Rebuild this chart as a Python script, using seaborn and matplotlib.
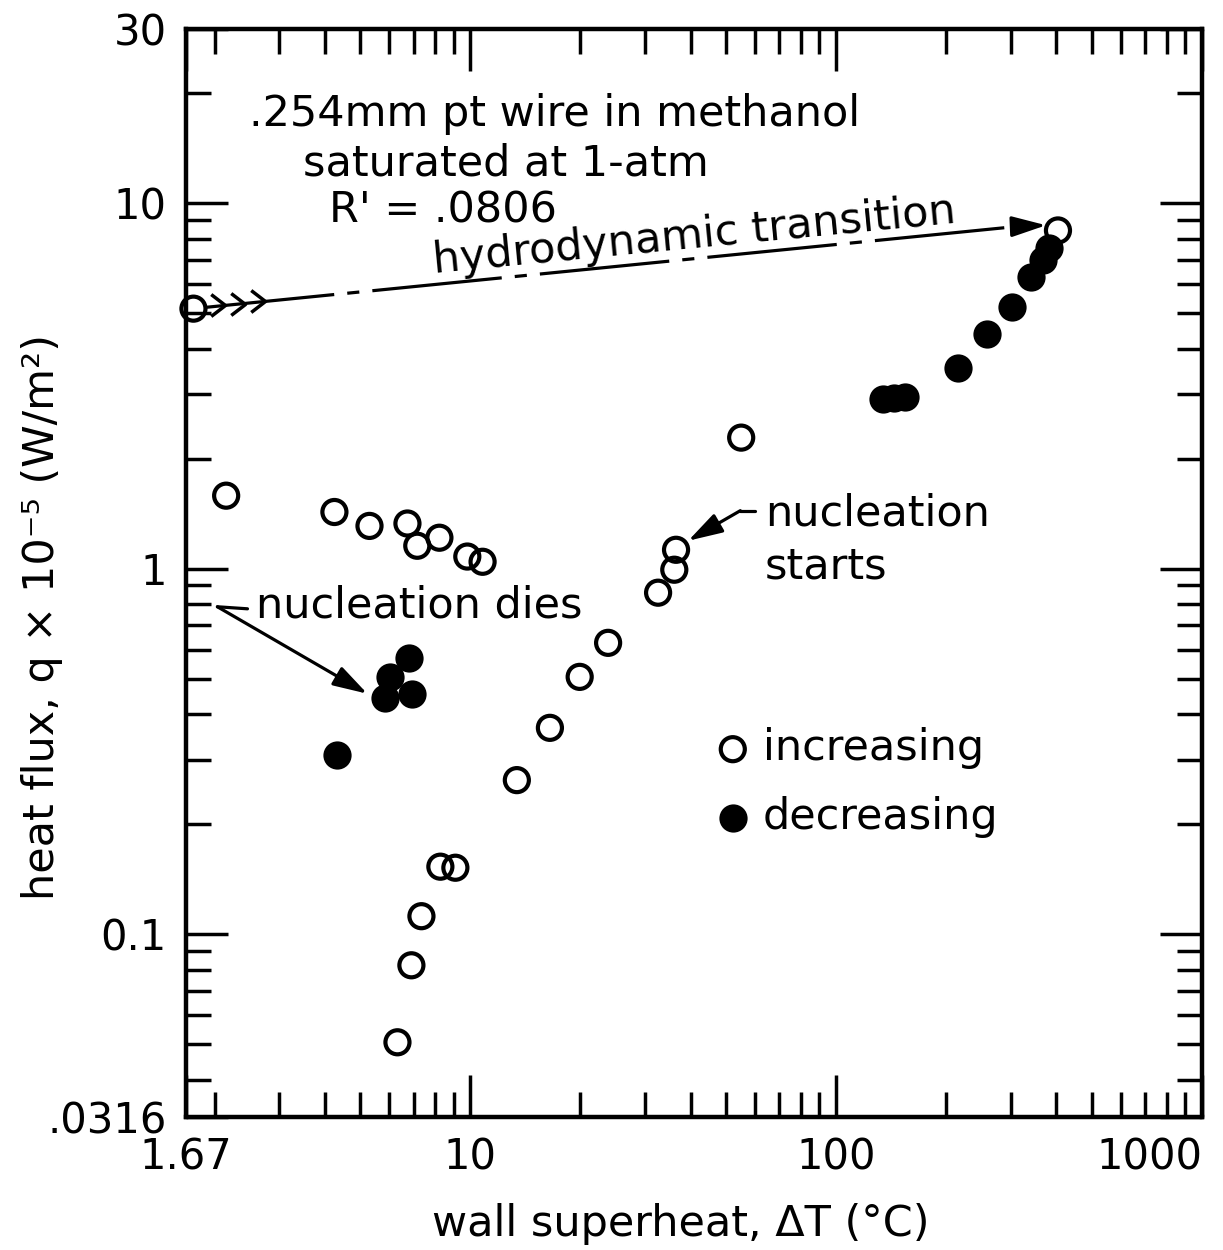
import matplotlib
matplotlib.use("Agg")
import matplotlib.pyplot as plt
from matplotlib.path import Path
from matplotlib.ticker import NullFormatter
import seaborn as sns

# wall superheat dT (deg C) and heat flux q x 1e-5 (W/m^2)
# open circles: increasing heat flux
inc_dT = [1.75, 2.15, 4.25, 5.30, 6.73, 7.16, 8.23, 9.81, 10.8,
          6.32, 6.90, 7.35, 8.28, 9.10,
          13.4, 16.5, 19.9, 23.8, 32.6, 36.1, 36.5, 55.0, 404]
inc_q = [5.15, 1.585, 1.43, 1.31, 1.33, 1.156, 1.216, 1.08, 1.045,
         0.0506, 0.0822, 0.112, 0.153, 0.152,
         0.264, 0.367, 0.506, 0.627, 0.86, 0.994, 1.127, 2.285, 8.43]
# filled circles: decreasing heat flux
dec_dT = [4.33, 6.81, 6.04, 5.86, 6.94, 134, 144, 154, 215, 258, 303, 341, 368, 382]
dec_q = [0.309, 0.570, 0.506, 0.443, 0.455, 2.92, 2.94, 2.96, 3.55, 4.38, 5.22, 6.27, 6.98, 7.53]

x_ticks = [1.67, 10, 100, 1000]
x_labels = ["1.67", "10", "100", "1000"]
y_ticks = [0.0316, 0.1, 1, 10, 30]
y_labels = [".0316", "0.1", "1", "10", "30"]

sns.set_theme(style="white")
plt.rcParams["font.family"] = ["DejaVu Sans"]
plt.rcParams["text.color"] = "black"
plt.rcParams["axes.labelcolor"] = "black"

fig = plt.figure(figsize=(12.23, 12.5), dpi=100)
ax = fig.add_axes([0.1521, 0.1064, 0.8307, 0.8704])
ax.set_xscale("log")
ax.set_yscale("log")

sns.scatterplot(x=inc_dT, y=inc_q, ax=ax, marker="o", s=300, facecolors="none",
                edgecolor="black", linewidth=3.0, label="increasing", clip_on=False, zorder=3)
sns.scatterplot(x=dec_dT, y=dec_q, ax=ax, marker="o", s=300, color="black",
                edgecolor="black", linewidth=3.0, label="decreasing", zorder=3)

ax.set_xlim(1.67, 1000)
ax.set_ylim(0.0316, 30)
ax.set_xticks(x_ticks, x_labels)
ax.set_yticks(y_ticks, y_labels)
ax.xaxis.set_minor_formatter(NullFormatter())
ax.yaxis.set_minor_formatter(NullFormatter())
ax.get_xticklabels()[-1].set_horizontalalignment("right")

ax.tick_params(which="both", direction="in", top=True, right=True, bottom=True, left=True,
               width=2.5, color="black")
ax.tick_params(which="major", length=30, labelsize=30, pad=14, labelcolor="black")
ax.tick_params(which="minor", length=18)
for sp in ax.spines.values():
    sp.set_linewidth(3.2)
    sp.set_color("black")

ax.set_ylabel("heat flux, q × 10⁻⁵ (W/m²)", fontsize=31, color="black")
ax.yaxis.set_label_coords(-0.121, 0.46)
ax.set_xlabel("wall superheat, ΔT (°C)", fontsize=31, color="black")
ax.xaxis.set_label_coords(0.487, -0.079)

# hydrodynamic transition: dash-dot line with chevrons and arrow head
lw = 2.3
ax.plot([1.88, 314.4], [5.19, 8.65], color="black", lw=lw,
        dashes=[40.7, 4.1, 3.8, 4.1], solid_capstyle="butt", dash_capstyle="butt")
ax.annotate("", xy=(374.9, 8.71), xytext=(314.4, 8.65),
            arrowprops=dict(arrowstyle="-|>,head_length=1.5,head_width=0.45",
                            mutation_scale=14, color="black", lw=lw, shrinkA=0, shrinkB=0))
chevron = Path([(-1.3, 1), (0, 0), (-1.3, -1)])
ax.plot([2.141, 2.428, 2.754], [5.26, 5.32, 5.39], ls="none", marker=chevron,
        ms=20.5, mfc="none", mec="black", mew=2.5)

# nucleation dies arrow
ax.plot([2.035, 2.459], [0.787, 0.777], color="black", lw=lw)
ax.annotate("", xy=(5.23, 0.455), xytext=(2.035, 0.787),
            arrowprops=dict(arrowstyle="-|>,head_length=1.5,head_width=0.45",
                            mutation_scale=14, color="black", lw=lw, shrinkA=0, shrinkB=0))

# nucleation starts arrow
ax.plot([54.7, 60.1], [1.442, 1.442], color="black", lw=lw)
ax.annotate("", xy=(39.4, 1.193), xytext=(54.7, 1.442),
            arrowprops=dict(arrowstyle="-|>,head_length=1.5,head_width=0.45",
                            mutation_scale=14, color="black", lw=lw, shrinkA=0, shrinkB=0))

fs = 31
tkw = dict(transform=ax.transAxes, fontsize=fs, color="black", va="baseline")
ax.text(0.363, 0.911, ".254mm pt wire in methanol", ha="center", **tkw)
ax.text(0.315, 0.865, "saturated at 1-atm", ha="center", **tkw)
ax.text(0.253, 0.8226, "R' = .0806", ha="center", **tkw)
ax.text(0.501, 0.7992, "hydrodynamic transition", ha="center", rotation=5.5,
        rotation_mode="anchor", **tkw)
ax.text(0.230, 0.459, "nucleation dies", ha="center", **tkw)
ax.text(0.570, 0.544, "nucleation", ha="left", **tkw)
ax.text(0.570, 0.4954, "starts", ha="left", **tkw)

leg = ax.legend(loc="upper left", bbox_to_anchor=(0.517, 0.358), frameon=False, fontsize=fs,
                handlelength=1.0, handletextpad=0.2, labelspacing=0.62, borderpad=0,
                borderaxespad=0, scatterpoints=1)
for t in leg.get_texts():
    t.set_color("black")

fig.savefig("out.png", dpi=100, facecolor="white")
